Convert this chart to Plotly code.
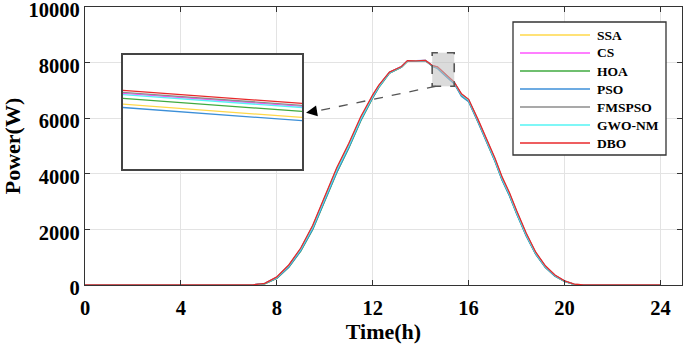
import plotly.graph_objects as go

# ---------------- data ----------------
T = [0, 6.75, 7.0, 7.5, 8.0, 8.5, 9.0, 9.5, 10.0, 10.5, 11.0, 11.5, 12.0, 12.25, 12.5, 12.7,
     13.0, 13.2, 13.45, 13.8, 14.2, 14.5, 14.7, 15.0, 15.4, 15.7, 16.0, 16.4, 16.8, 17.1,
     17.4, 17.7, 18.0, 18.4, 18.8, 19.2, 19.6, 20.0, 20.4, 20.8, 24]

SSA = [0, 0, 3, 48, 250, 655, 1240, 2030, 3070, 4070, 4950, 5925, 6750, 7115, 7400, 7628,
       7755, 7840, 8050, 8052, 8072, 7865, 7800, 7558, 7250, 6800, 6600, 5850, 5050, 4450,
       3770, 3220, 2570, 1775, 1105, 635, 320, 128, 20, 0, 0]
CS = [0, 0, 4, 56, 275, 700, 1300, 2105, 3160, 4160, 5030, 5995, 6800, 7150, 7428, 7645,
      7772, 7852, 8062, 8056, 8076, 7882, 7838, 7600, 7285, 6858, 6658, 5910, 5112, 4515,
      3835, 3285, 2635, 1832, 1150, 668, 345, 142, 26, 0, 0]
HOA = [0, 0, 3, 45, 240, 640, 1220, 2000, 3040, 4040, 4920, 5900, 6730, 7100, 7390, 7620,
       7750, 7835, 8045, 8050, 8070, 7870, 7820, 7582, 7260, 6820, 6620, 5860, 5060, 4460,
       3780, 3230, 2580, 1780, 1110, 640, 325, 130, 20, 0, 0]
PSO = [0, 0, 3, 47, 245, 648, 1232, 2018, 3058, 4058, 4938, 5915, 6742, 7108, 7395, 7624,
       7752, 7838, 8048, 8051, 8071, 7860, 7788, 7546, 7240, 6790, 6590, 5840, 5040, 4440,
       3760, 3210, 2560, 1768, 1100, 630, 318, 126, 19, 0, 0]
FMSPSO = [0, 0, 4, 57, 280, 705, 1310, 2120, 3180, 4180, 5050, 6010, 6810, 7160, 7435, 7650,
          7775, 7855, 8065, 8058, 8078, 7885, 7842, 7604, 7290, 6865, 6665, 5920, 5125, 4530,
          3850, 3300, 2650, 1845, 1160, 675, 350, 145, 28, 0, 0]
GWO_NM = [0, 0, 4, 55, 270, 690, 1290, 2090, 3140, 4140, 5010, 5980, 6790, 7140, 7420, 7640,
          7770, 7850, 8060, 8055, 8075, 7880, 7832, 7598, 7280, 6850, 6650, 5900, 5100, 4500,
          3820, 3270, 2620, 1820, 1140, 660, 340, 140, 25, 0, 0]
DBO = [0, 0, 5, 60, 290, 720, 1330, 2150, 3220, 4220, 5090, 6050, 6840, 7180, 7450, 7660,
       7780, 7860, 8070, 8060, 8080, 7890, 7850, 7610, 7300, 6880, 6680, 5940, 5150, 4560,
       3880, 3330, 2680, 1870, 1180, 690, 360, 150, 30, 0, 0]

NAMES = ["SSA", "CS", "HOA", "PSO", "FMSPSO", "GWO-NM", "DBO"]
SERIES = [SSA, CS, HOA, PSO, FMSPSO, GWO_NM, DBO]
COLORS = ["#FFD84A", "#FF55FF", "#3FAA3F", "#3C8FD8", "#8C8C8C", "#55F5F5", "#E8292B"]

X_TICKS = [0, 4, 8, 12, 16, 20, 24]
Y_TICKS = [0, 2000, 4000, 6000, 8000, 10000]

ZOOM_X = [14.48, 15.40]      # zoomed region marked on the main axes
ZOOM_Y = [7147, 8356]
INSET_X = [14.80, 14.86]     # ranges of the inset axes
INSET_Y = [7482, 7899]

FONT = "Liberation Serif, Times New Roman, serif"

fig = go.Figure()

for name, vals, col in zip(NAMES, SERIES, COLORS):
    fig.add_trace(go.Scatter(x=T, y=vals, mode="lines", name=name, showlegend=False,
                             line=dict(color=col, width=1.3),
                             xaxis="x", yaxis="y"))
for name, vals, col in zip(NAMES, SERIES, COLORS):
    fig.add_trace(go.Scatter(x=T, y=vals, mode="lines", name=name, showlegend=False,
                             line=dict(color=col, width=1.3),
                             xaxis="x2", yaxis="y2"))

# zoom rectangle on main axes
fig.add_shape(type="rect", xref="x", yref="y",
              x0=ZOOM_X[0], x1=ZOOM_X[1], y0=ZOOM_Y[0], y1=ZOOM_Y[1],
              fillcolor="rgba(190,190,190,0.55)",
              line=dict(color="#555555", width=1.6, dash="dash"), layer="above")

# dashed connector + arrow head
arrow_start = (14.63, ZOOM_Y[0])
arrow_end = (9.22, 6198)
fig.add_shape(type="line", xref="x", yref="y",
              x0=arrow_start[0], y0=arrow_start[1], x1=arrow_end[0] + 0.35, y1=arrow_end[1] + 40,
              line=dict(color="#555555", width=1.3, dash="dash"), layer="above")
fig.add_annotation(x=arrow_end[0], y=arrow_end[1], xref="x", yref="y",
                   ax=12, ay=-2, axref="pixel", ayref="pixel",
                   showarrow=True, arrowhead=2, arrowsize=1.7, arrowwidth=1.3,
                   arrowcolor="#000000", text="")

# ---------------- legend (drawn in paper coordinates) ----------------
PLOT_L, PLOT_R, PLOT_T, PLOT_B = 85, 682, 7, 285
def px_x(p):
    return (p - PLOT_L) / (PLOT_R - PLOT_L)
def px_y(p):
    return (PLOT_B - p) / (PLOT_B - PLOT_T)

fig.add_shape(type="rect", xref="paper", yref="paper",
              x0=px_x(513), x1=px_x(666), y0=px_y(155), y1=px_y(22),
              fillcolor="white", line=dict(color="#333333", width=1.3), layer="above")
for i, (name, col) in enumerate(zip(NAMES, COLORS)):
    yy = px_y(35 + 18 * i)
    fig.add_shape(type="line", xref="paper", yref="paper",
                  x0=px_x(520), x1=px_x(590), y0=yy, y1=yy,
                  line=dict(color=col, width=1.3), layer="above")
    fig.add_annotation(x=px_x(595), y=yy, xref="paper", yref="paper",
                       text=f"<b>{name}</b>", showarrow=False,
                       xanchor="left", yanchor="middle",
                       font=dict(family=FONT, size=13.5, color="#000000"))

axis_font = dict(family=FONT, size=20.5, color="#000000")
title_font = dict(family=FONT, size=22, color="#000000")

fig.update_layout(
    width=685, height=344,
    margin=dict(l=85, r=3, t=7, b=59, autoexpand=False),
    paper_bgcolor="white", plot_bgcolor="white",
    font=dict(family=FONT, color="#000000"),
    showlegend=False,
    xaxis=dict(domain=[0, 1], range=[0, 24.9], tickvals=X_TICKS,
               ticktext=[f"<b>{v}</b>" for v in X_TICKS],
               tickfont=axis_font, ticks="inside", ticklen=5, tickcolor="#333333",
               showline=True, linecolor="#333333", linewidth=1.3, mirror="ticks",
               showgrid=True, gridcolor="#E3E3E3", gridwidth=1, zeroline=False,
               automargin=False, ticklabeloverflow="allow", ticklabelstandoff=4,
               title=dict(text="<b>Time(h)</b>", font=title_font, standoff=3)),
    yaxis=dict(domain=[0, 1], range=[0, 10000], tickvals=Y_TICKS,
               ticktext=[f"<b>{v}</b>" for v in Y_TICKS],
               tickfont=axis_font, ticks="inside", ticklen=5, tickcolor="#333333",
               showline=True, linecolor="#333333", linewidth=1.3, mirror="ticks",
               showgrid=True, gridcolor="#E3E3E3", gridwidth=1, zeroline=False,
               automargin=False, ticklabeloverflow="allow", ticklabelshift=3,
               title=dict(text="<b>Power(W)</b>", font=title_font, standoff=2)),
    xaxis2=dict(domain=[0.0637, 0.3635], range=INSET_X, anchor="y2",
                showticklabels=False, ticks="", showgrid=False, zeroline=False,
                showline=True, linecolor="#444444", linewidth=1.6, mirror=True),
    yaxis2=dict(domain=[0.417, 0.827], range=INSET_Y, anchor="x2",
                showticklabels=False, ticks="", showgrid=False, zeroline=False,
                showline=True, linecolor="#444444", linewidth=1.6, mirror=True),
)

fig.write_html("out.html", config={"displayModeBar": False},
               post_script="document.body.style.margin='0';document.body.style.overflow='hidden';")
